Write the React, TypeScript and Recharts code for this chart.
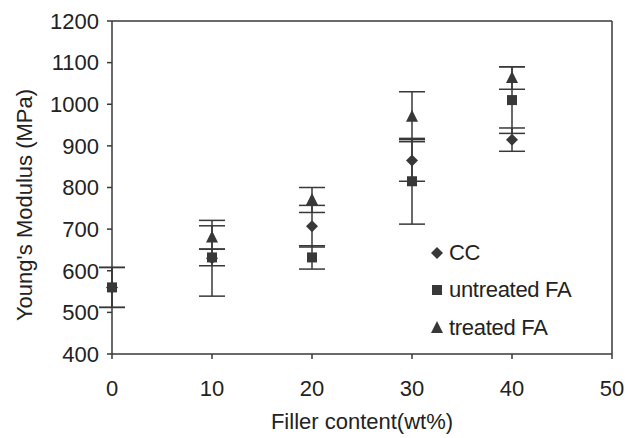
import {
  ErrorBar,
  Label,
  Legend,
  ReferenceLine,
  Scatter,
  ScatterChart,
  XAxis,
  YAxis,
} from "recharts";

const fillerContent = [0, 10, 20, 30, 40];
const ccModulus = [560, 630, 707, 865, 915];
const ccError = [48, 91, 50, 50, 28];
const untreatedModulus = [560, 632, 632, 815, 1010];
const untreatedError = [48, 20, 28, 103, 80];
// no visible triangle at 0 wt%
const treatedModulus = [null, 680, 770, 970, 1063];
const treatedError = [null, 28, 30, 60, 27];
const xTicks = [0, 10, 20, 30, 40, 50];
const yTicks = [400, 500, 600, 700, 800, 900, 1000, 1100, 1200];

const toPoints = (values: (number | null)[], errors: (number | null)[]) =>
  fillerContent
    .map((x, i) => ({ x, y: values[i], err: errors[i] }))
    .filter((p) => p.y !== null);

const ccData = toPoints(ccModulus, ccError);
const untreatedData = toPoints(untreatedModulus, untreatedError);
const treatedData = toPoints(treatedModulus, treatedError);

const ink = "#383838";
const textColor = "#222";
const font = "'Liberation Sans', Arial, sans-serif";
const fontSize = 22;

const Diamond = ({ cx, cy }: any) => (
  <polygon
    points={`${cx},${cy - 6} ${cx + 6},${cy} ${cx},${cy + 6} ${cx - 6},${cy}`}
    fill={ink}
  />
);
const Square = ({ cx, cy }: any) => (
  <rect x={cx - 5} y={cy - 5} width={10} height={10} fill={ink} />
);
const Triangle = ({ cx, cy }: any) => (
  <polygon
    points={`${cx},${cy - 7} ${cx + 6},${cy + 5} ${cx - 6},${cy + 5}`}
    fill={ink}
  />
);

const legendItems = [
  { name: "CC", Shape: Diamond },
  { name: "untreated FA", Shape: Square },
  { name: "treated FA", Shape: Triangle },
];

const ChartLegend = () => (
  <div style={{ fontFamily: font, fontSize, color: textColor }}>
    {legendItems.map(({ name, Shape }) => (
      <div
        key={name}
        style={{ display: "flex", alignItems: "center", height: 37.5 }}
      >
        <svg width={14} height={14} style={{ marginRight: 5 }}>
          <Shape cx={7} cy={7} />
        </svg>
        <span style={{ letterSpacing: -0.3 }}>{name}</span>
      </div>
    ))}
  </div>
);

const errorBar = (
  <ErrorBar
    dataKey="err"
    direction="y"
    width={13}
    stroke={ink}
    strokeWidth={1.5}
    isAnimationActive={false}
  />
);

export default function App() {
  return (
    <div style={{ position: "absolute", left: 0, top: 0, fontFamily: font }}>
      <ScatterChart
        width={632}
        height={438}
        margin={{ top: 21, right: 20, bottom: 0, left: 0 }}
      >
        <XAxis
          type="number"
          dataKey="x"
          domain={[0, 50]}
          ticks={xTicks}
          height={84}
          tickSize={5}
          tickMargin={21}
          stroke={ink}
          strokeWidth={1.5}
          tick={{ fill: textColor, fontSize, fontFamily: font }}
        >
          <Label
            value="Filler content(wt%)"
            position="insideBottom"
            offset={9}
            style={{ fill: textColor, fontSize, fontFamily: font }}
          />
        </XAxis>
        <YAxis
          type="number"
          dataKey="y"
          domain={[400, 1200]}
          ticks={yTicks}
          width={112}
          tickSize={5}
          tickMargin={8}
          stroke={ink}
          strokeWidth={1.5}
          tick={{ fill: textColor, fontSize, fontFamily: font }}
        >
          <Label
            content={() => (
              <text
                x={24}
                y={205}
                transform="rotate(-90 24 205)"
                textAnchor="middle"
                dominantBaseline="central"
                fill={textColor}
                fontSize={fontSize}
                fontFamily={font}
              >
                Young's Modulus (MPa)
              </text>
            )}
          />
        </YAxis>
        <ReferenceLine y={1200} stroke={ink} strokeWidth={1.5} />
        <ReferenceLine x={50} stroke={ink} strokeWidth={1.5} />
        <Legend
          layout="vertical"
          align="center"
          verticalAlign="middle"
          content={() => <ChartLegend />}
          wrapperStyle={{ left: 430, top: 234, width: "auto" }}
        />
        <Scatter
          name="CC"
          data={ccData}
          fill={ink}
          shape={<Diamond />}
          isAnimationActive={false}
        >
          {errorBar}
        </Scatter>
        <Scatter
          name="treated FA"
          data={treatedData}
          fill={ink}
          shape={<Triangle />}
          isAnimationActive={false}
        >
          {errorBar}
        </Scatter>
        <Scatter
          name="untreated FA"
          data={untreatedData}
          fill={ink}
          shape={<Square />}
          isAnimationActive={false}
        >
          {errorBar}
        </Scatter>
      </ScatterChart>
    </div>
  );
}
